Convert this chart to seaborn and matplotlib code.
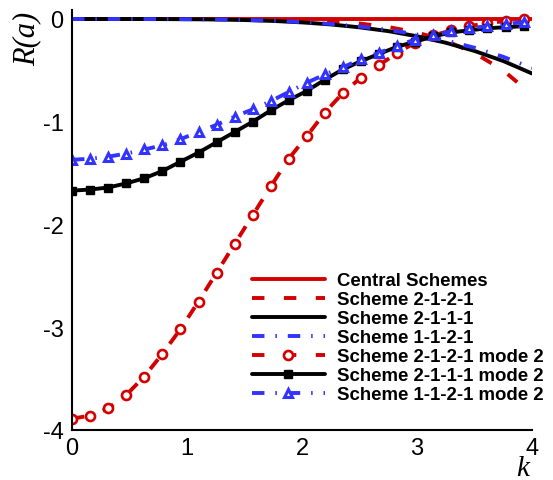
import numpy as np
import pandas as pd
import matplotlib
matplotlib.use("Agg")
import matplotlib.pyplot as plt
import seaborn as sns

# ---- data ----
k_line = [0.0, 0.25, 0.5, 0.75, 1.0, 1.25, 1.5, 1.75, 2.0, 2.25, 2.5, 2.75, 3.0, 3.25, 3.5, 3.75, 4.0]
central = [0.0] * 17
s2121 = [0.0, 0.0, 0.0, 0.0, 0.0, -0.001, -0.002, -0.005, -0.012, -0.023, -0.044, -0.078, -0.131, -0.212, -0.331, -0.50, -0.737]
s2111 = [0.0, 0.0, 0.0, -0.001, -0.002, -0.005, -0.010, -0.019, -0.033, -0.053, -0.081, -0.118, -0.168, -0.231, -0.311, -0.409, -0.53]
s1121 = [0.0, 0.0, 0.0, -0.001, -0.002, -0.004, -0.009, -0.017, -0.030, -0.048, -0.073, -0.106, -0.151, -0.208, -0.280, -0.368, -0.477]

k_pts = [0.0, 0.157, 0.314, 0.471, 0.628, 0.785, 0.942, 1.100, 1.257, 1.414, 1.571, 1.728, 1.885,
         2.042, 2.199, 2.356, 2.513, 2.670, 2.827, 2.985, 3.142, 3.299, 3.456, 3.613, 3.770, 3.927]
m2_2121 = [-3.89, -3.86, -3.79, -3.66, -3.48, -3.26, -3.02, -2.75, -2.47, -2.19, -1.91, -1.63, -1.36,
           -1.14, -0.91, -0.72, -0.57, -0.45, -0.33, -0.23, -0.16, -0.11, -0.07, -0.04, -0.02, 0.0]
m2_2111 = [-1.67, -1.66, -1.64, -1.60, -1.55, -1.48, -1.39, -1.30, -1.20, -1.10, -1.00, -0.89, -0.79,
           -0.70, -0.59, -0.49, -0.41, -0.34, -0.27, -0.22, -0.17, -0.13, -0.11, -0.09, -0.08, -0.07]
m2_1121 = [-1.37, -1.36, -1.34, -1.31, -1.27, -1.23, -1.17, -1.10, -1.03, -0.95, -0.88, -0.80, -0.71,
           -0.62, -0.54, -0.47, -0.39, -0.33, -0.26, -0.20, -0.16, -0.12, -0.09, -0.07, -0.05, -0.03]

labels = ["Central Schemes", "Scheme 2-1-2-1", "Scheme 2-1-1-1", "Scheme 1-1-2-1",
          "Scheme 2-1-2-1 mode 2", "Scheme 2-1-1-1 mode 2", "Scheme 1-1-2-1 mode 2"]

# ---- style ----
sns.set_theme(style="white")
plt.rcParams["font.family"] = ["Liberation Sans", "DejaVu Sans"]
plt.rcParams["axes.unicode_minus"] = False
for key in ["text.color", "axes.labelcolor", "xtick.color", "ytick.color", "axes.edgecolor"]:
    plt.rcParams[key] = "black"

RED = "#d40000"
BLUE = "#3333ff"
BLACK = "#000000"
LW = 2.8
DASH = (0, (3.2, 5.0))
DASHDOT = (0, (3.2, 2.8, 0.4, 2.8))

W, H = 553, 481
fig = plt.figure(figsize=(W / 100, H / 100), dpi=100)
ytop = 0.09
top_px = 20 - 102.75 * ytop
ax = fig.add_axes([72 / W, 1 - 431 / H, 460 / W, (431 - top_px) / H])

def df(x, y):
    return pd.DataFrame({"k": x, "R": y})

sns.lineplot(data=df(k_line, central), x="k", y="R", ax=ax, color=RED, lw=LW, label=labels[0])
sns.lineplot(data=df(k_line, s2121), x="k", y="R", ax=ax, color=RED, lw=LW, linestyle=DASH, label=labels[1])
sns.lineplot(data=df(k_line, s2111), x="k", y="R", ax=ax, color=BLACK, lw=LW, label=labels[2])
sns.lineplot(data=df(k_line, s1121), x="k", y="R", ax=ax, color=BLUE, lw=LW, linestyle=DASHDOT, label=labels[3])
sns.lineplot(data=df(k_pts, m2_2121), x="k", y="R", ax=ax, color=RED, lw=LW, linestyle=DASH,
             marker="o", ms=6.5, mew=1.9, mfc="white", mec=RED, label=labels[4])
sns.lineplot(data=df(k_pts, m2_2111), x="k", y="R", ax=ax, color=BLACK, lw=LW,
             marker="s", ms=5.5, mew=1.0, mfc=BLACK, mec=BLACK, label=labels[5])
sns.lineplot(data=df(k_pts, m2_1121), x="k", y="R", ax=ax, color=BLUE, lw=LW, linestyle=DASHDOT,
             marker="^", ms=6.2, mew=2.2, mfc="white", mec=BLUE, label=labels[6])

ax.set_xlim(0, 4)
ax.set_ylim(-4, ytop)
ax.set_xticks([0, 1, 2, 3, 4])
ax.set_yticks([-4, -3, -2, -1, 0])
ax.set_xticks(np.arange(0, 4.01, 0.2), minor=True)
ax.set_yticks(np.arange(-4, 0.01, 0.2), minor=True)
ax.set_xticklabels(["0", "1", "2", "3", "4"])
ax.set_yticklabels(["-4", "-3", "-2", "-1", "0"])
ax.tick_params(which="both", direction="in", width=1.5, colors="black", labelsize=17)
ax.tick_params(which="major", length=6.5, pad=5)
ax.tick_params(which="minor", length=4.3)
ax.tick_params(axis="y", which="major", pad=6)
for s in ["top", "right"]:
    ax.spines[s].set_visible(False)
for s in ["left", "bottom"]:
    ax.spines[s].set_linewidth(1.5)
    ax.spines[s].set_color("black")
ax.set_xlabel("")
ax.set_ylabel("")
ax.grid(False)

fig.text(27 / W, 1 - 39 / H, "R(a)", rotation=90, ha="center", va="center",
         family="Liberation Serif", style="italic", fontsize=22, color="black")
fig.text(523 / W, 1 - 476 / H, "k", ha="center", va="baseline",
         family="Liberation Serif", style="italic", fontsize=21, color="black")

leg = ax.legend(loc="upper left", bbox_to_anchor=(252 / W, 1 - 273 / H), bbox_transform=fig.transFigure,
                frameon=False, numpoints=1, handlelength=3.9, handletextpad=0.65,
                labelspacing=0.11, borderpad=0, borderaxespad=0,
                prop={"family": "Liberation Sans", "weight": "bold", "size": 13.4})
for t in leg.get_texts():
    t.set_color("black")

fig.savefig("out.png", dpi=100)
